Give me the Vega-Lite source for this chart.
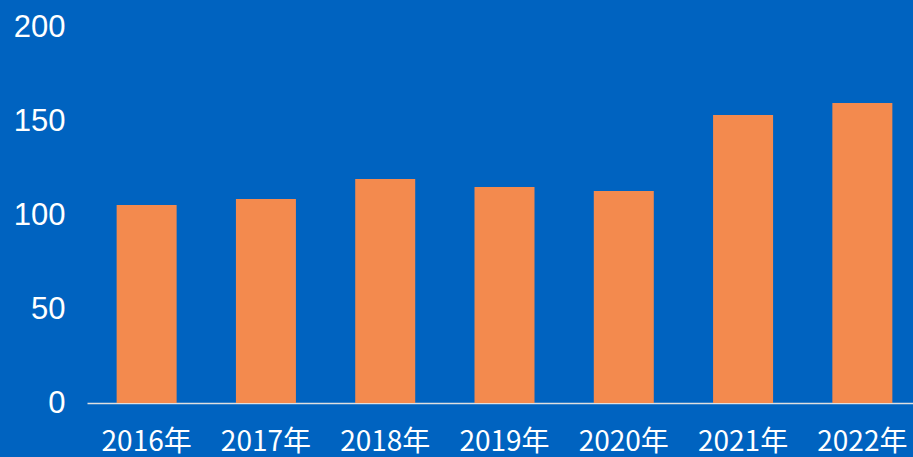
{
  "$schema": "https://vega.github.io/schema/vega-lite/v6.json",
  "width": 826,
  "height": 376,
  "autosize": {"type": "none"},
  "padding": {"left": 87, "top": 27, "right": 0, "bottom": 54},
  "background": "#0063C0",
  "config": {"view": {"stroke": null}},
  "data": {
    "values": [
      {"year": "2016年", "value": 105.3},
      {"year": "2017年", "value": 108.5},
      {"year": "2018年", "value": 119.1},
      {"year": "2019年", "value": 114.9},
      {"year": "2020年", "value": 112.8},
      {"year": "2021年", "value": 153.2},
      {"year": "2022年", "value": 159.6}
    ]
  },
  "mark": {"type": "bar", "color": "#F38A4E"},
  "encoding": {
    "x": {
      "field": "year",
      "type": "nominal",
      "sort": null,
      "scale": {"range": [0, 835], "paddingInner": 0.497, "paddingOuter": 0.2485},
      "axis": {
        "title": null,
        "labelAngle": 0,
        "ticks": false,
        "domainColor": "#E0E0E0",
        "domainWidth": 1.5,
        "labelColor": "#FFFFFF",
        "labelFont": "Noto Sans CJK SC",
        "labelFontSize": 28,
        "labelPadding": 25,
        "labelOverlap": false,
        "labelBound": false
      }
    },
    "y": {
      "field": "value",
      "type": "quantitative",
      "scale": {"domain": [0, 200]},
      "axis": {
        "title": null,
        "values": [0, 50, 100, 150, 200],
        "grid": false,
        "domain": false,
        "ticks": false,
        "labelColor": "#FFFFFF",
        "labelFont": "Liberation Sans",
        "labelFontSize": 31,
        "labelPadding": 22
      }
    }
  }
}
